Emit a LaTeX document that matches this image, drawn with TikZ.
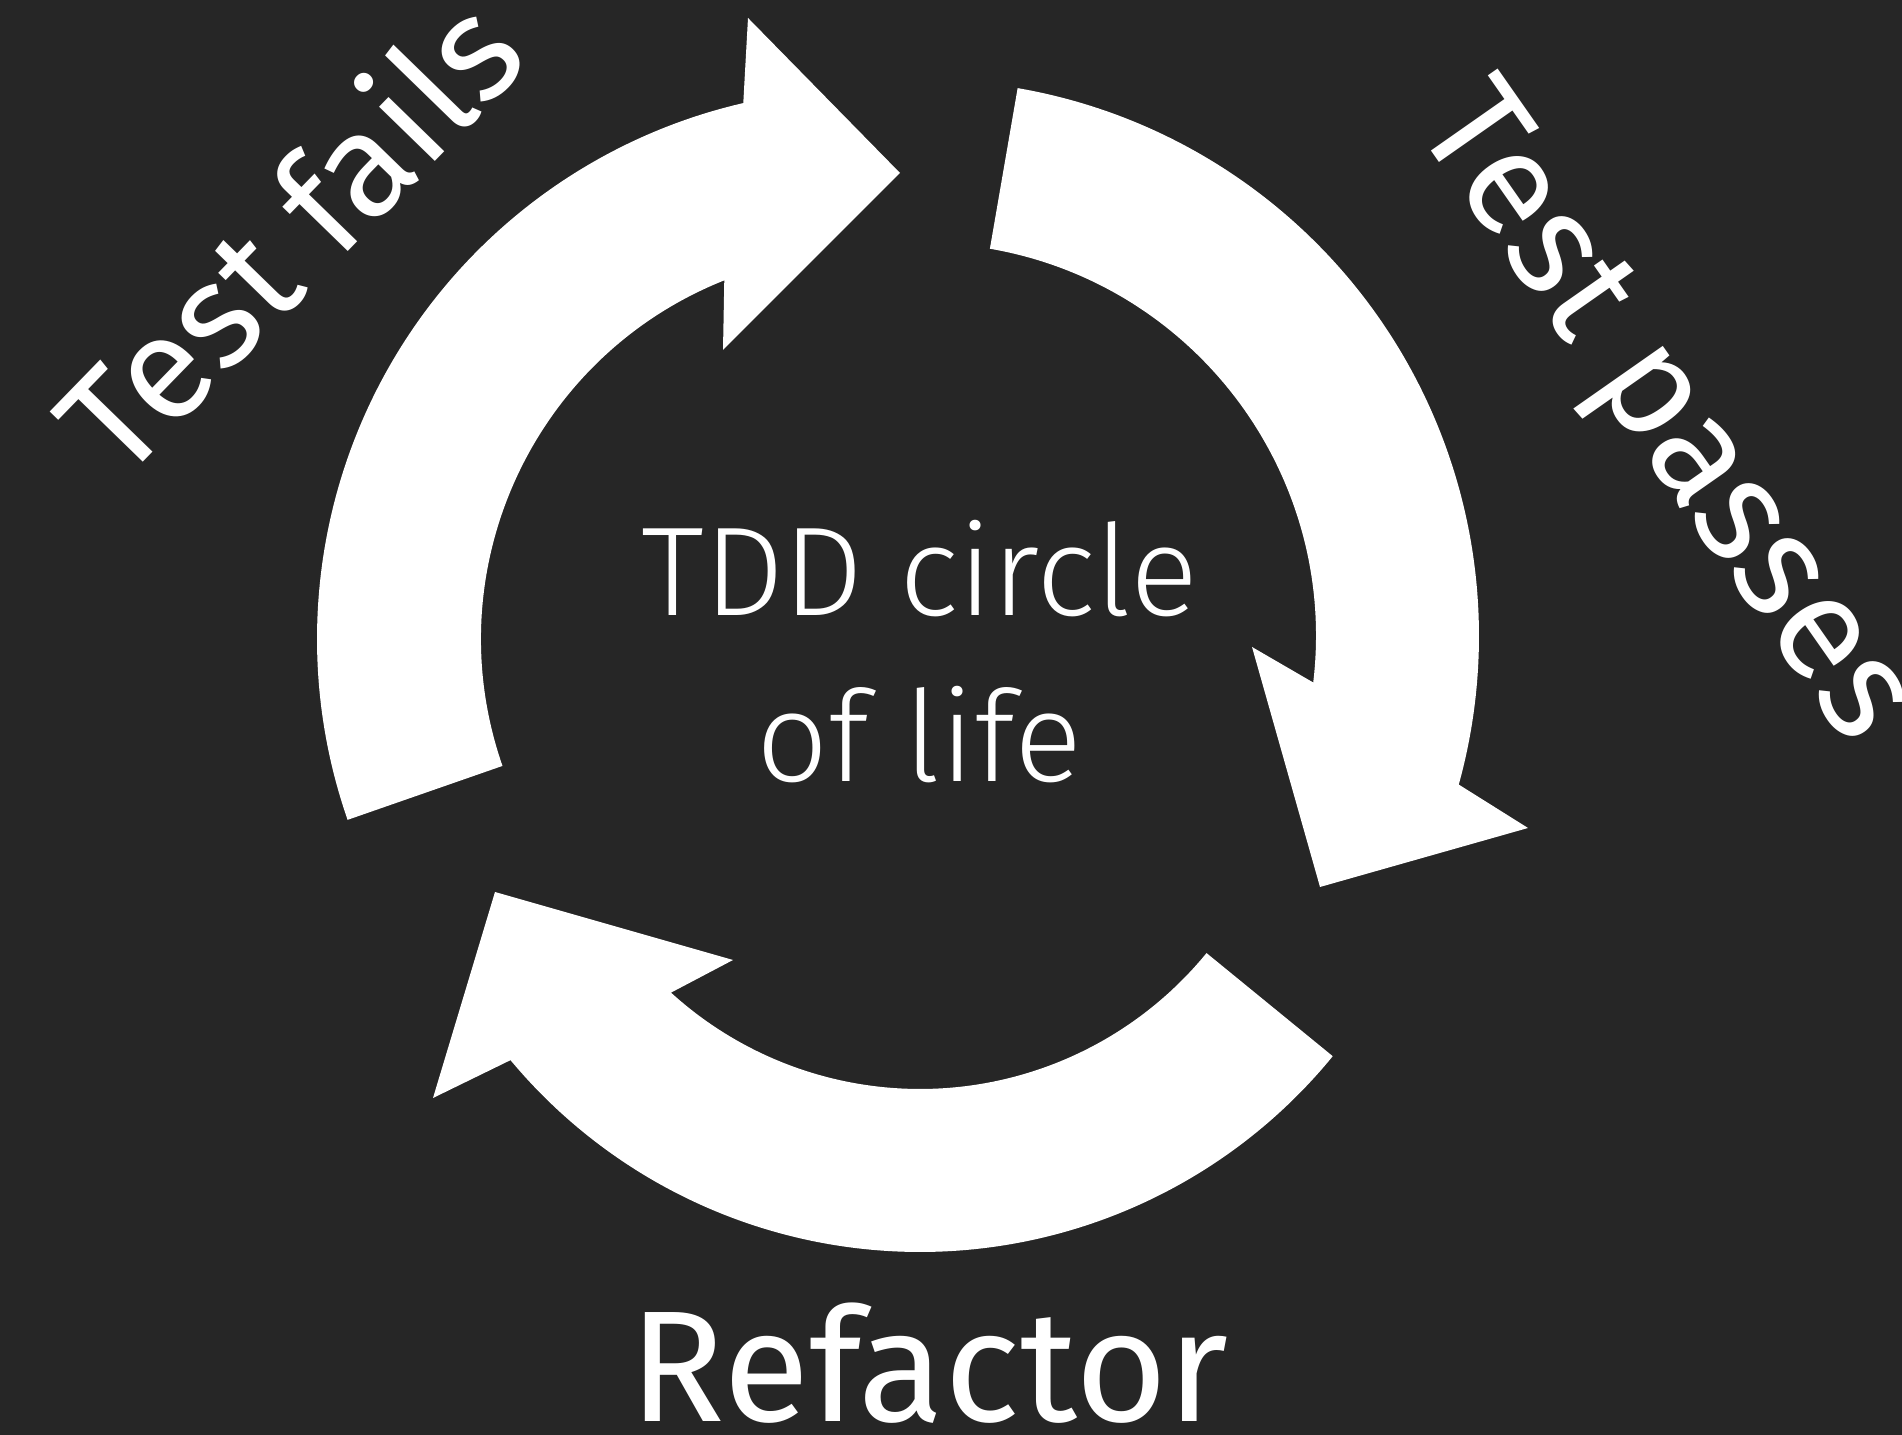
\documentclass[tikz,border=0pt]{standalone}
\usepackage{fontspec}
\setmainfont{Fira Sans}
\newfontfamily\lightfont{Fira Sans Light}
\usetikzlibrary{calc}
\definecolor{board}{RGB}{38,38,38}
\begin{document}
\begin{tikzpicture}[
  cyclearrow/.style={fill=white, draw=none},
  steplabel/.style={text=white, font=\fontsize{42}{50}\selectfont, inner sep=0pt},
  centretext/.style={text=white, font=\lightfont\fontsize{36}{44}\selectfont, inner sep=0pt}
]
\useasboundingbox (0,0) rectangle (19.02,14.35);
\fill[board] (0,0) rectangle (19.02,14.35);

% centres of the three curved arrows
\coordinate (cA) at (8.67,7.96);
\coordinate (cB) at (9.23,7.99);
\coordinate (cC) at (9.20,7.16);

% left arrow, rising to the top
\fill[cyclearrow] ($(cA)+(199.2:5.50)$) arc[start angle=199.2, end angle=103.0, radius=5.50]
  -- (7.48,14.17) -- (9.00,12.62) -- (7.23,10.85)
  -- ($(cA)+(111.7:3.86)$) arc[start angle=111.7, end angle=199.2, radius=3.86] -- cycle;

% right arrow, falling down the right side
\fill[cyclearrow] ($(cB)+(80.2:5.56)$) arc[start angle=80.2, end angle=-15.5, radius=5.56]
  -- (15.28,6.07) -- (13.20,5.48) -- (12.52,7.88)
  -- ($(cB)+(-6.8:3.93)$) arc[start angle=-6.8, end angle=80.2, radius=3.93] -- cycle;

% bottom arrow, running back to the left
\fill[cyclearrow] ($(cC)+(-39.25:5.33)$) arc[start angle=-39.25, end angle=-140.2, radius=5.33]
  -- (4.33,3.37) -- (4.95,5.43) -- (7.33,4.75)
  -- ($(cC)+(-132.3:3.70)$) arc[start angle=-132.3, end angle=-39.25, radius=3.70] -- cycle;

% centre title
\node[centretext, anchor=base] (titleA) at (9.20,8.19) {TDD circle};
\node[centretext, anchor=base] (titleB) at (9.19,6.53) {of life};

% stage labels
\node[steplabel, anchor=base, rotate=45.8] (fails) at (3.27,11.62) {Test fails};
\node[steplabel, anchor=base, rotate=-55] (passes) at (16.32,9.98) {Test passes};
\node[steplabel, anchor=base, font=\fontsize{45}{54}\selectfont] (refactor) at (9.29,0.13) {Refactor};
\end{tikzpicture}
\end{document}
